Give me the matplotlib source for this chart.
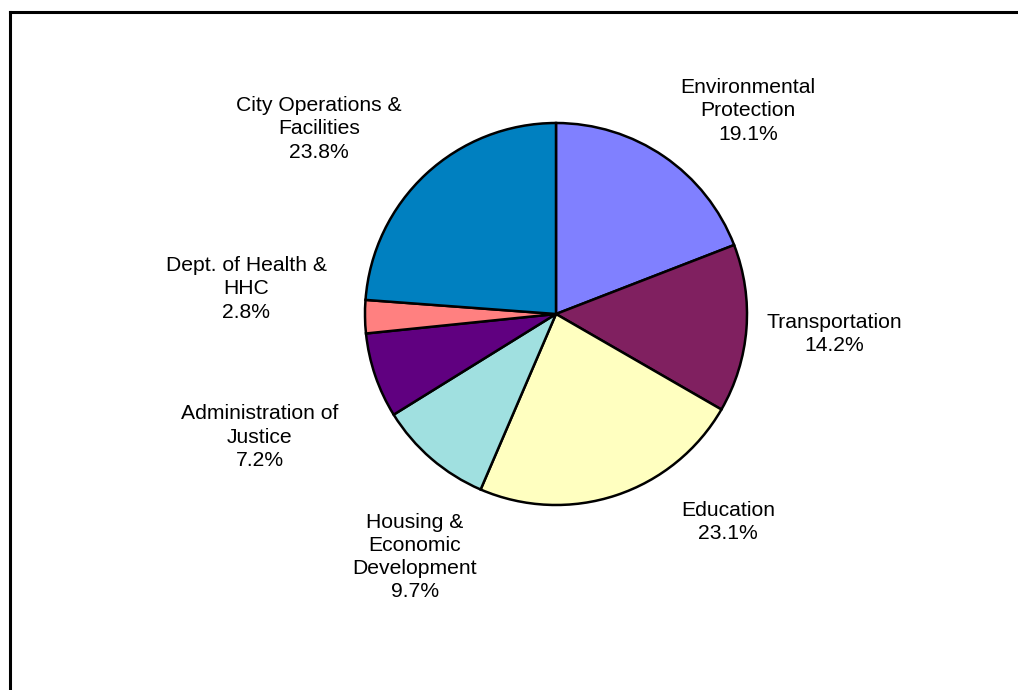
import matplotlib
matplotlib.use("Agg")
import matplotlib.pyplot as plt
from matplotlib.lines import Line2D

categories = [
    "Environmental\nProtection",
    "Transportation",
    "Education",
    "Housing &\nEconomic\nDevelopment",
    "Administration of\nJustice",
    "Dept. of Health &\nHHC",
    "City Operations &\nFacilities",
]
shares = [19.1, 14.2, 23.1, 9.7, 7.2, 2.8, 23.8]
colors = ["#8080FF", "#802060", "#FFFFC0", "#A0E0E0", "#600080", "#FF8080", "#0080C0"]

# label anchor points in pie units (radius = 1)
label_xy = [(1.005, 1.063), (1.455, -0.105), (0.90, -1.089), (-0.738, -1.272),
            (-1.55, -0.644), (-1.623, 0.131), (-1.241, 0.969)]

W, H = 1018, 690
cx, cy, R = 556, 314, 191

fig = plt.figure(figsize=(W / 100, H / 100), dpi=100)
ax = fig.add_axes([0, 0, 1, 1])
ax.axis("off")

ax.pie(shares, colors=colors, startangle=90, counterclock=False, radius=1.0,
       wedgeprops=dict(edgecolor="black", linewidth=1.8))

ax.set_xlim(-cx / R, (W - cx) / R)
ax.set_ylim(-(H - cy) / R, cy / R)

for name, val, (x, y) in zip(categories, shares, label_xy):
    ax.text(x, y, f"{name}\n{val:.1f}%", ha="center", va="center",
            fontsize=15.2, family="Liberation Sans", linespacing=1.28, color="black")

# chart frame (left and top edges)
fig.add_artist(Line2D([10 / W, 10 / W], [0, 1 - 12 / H], color="black", lw=2.2))
fig.add_artist(Line2D([10 / W, 1], [1 - 12 / H, 1 - 12 / H], color="black", lw=2.2))

fig.savefig("out.png", dpi=100)
